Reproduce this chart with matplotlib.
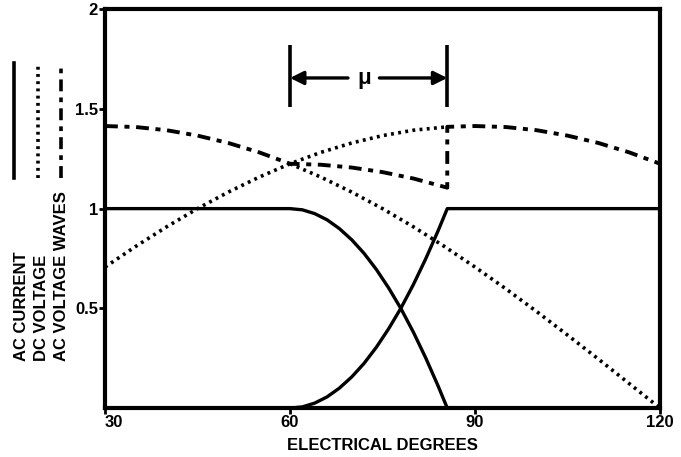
import matplotlib
matplotlib.use("Agg")
import matplotlib.pyplot as plt
from matplotlib.lines import Line2D

plt.rcParams['font.family'] = ['Liberation Sans', 'DejaVu Sans']
plt.rcParams['font.weight'] = 'bold'

# valores (grados electricos / por unidad)
x_sub = [30, 35, 40, 45, 50, 55, 60, 65, 70, 75, 80, 85.5]
v_sub = [0.707, 0.811, 0.909, 1.0, 1.083, 1.158, 1.225, 1.282, 1.329, 1.366, 1.393, 1.41]

x_baj = [30, 35, 40, 45, 50, 55, 60, 65, 70, 75, 80, 85, 90, 95, 100, 105, 110, 115, 120]
v_baj = [1.414, 1.409, 1.393, 1.366, 1.329, 1.282, 1.225, 1.158, 1.083, 1.0, 0.909,
         0.811, 0.707, 0.598, 0.484, 0.366, 0.246, 0.123, 0.0]

x_ac = [30, 35, 40, 45, 50, 55, 60, 65, 70, 75, 80, 85.5, 85.5, 90, 95, 100, 105, 110, 115, 120]
v_ac = [1.414, 1.409, 1.393, 1.366, 1.329, 1.282, 1.225, 1.220, 1.206, 1.183, 1.151, 1.105,
        1.41, 1.414, 1.409, 1.393, 1.366, 1.329, 1.282, 1.225]

x_i = [30, 60, 62, 64, 66, 68, 70, 72, 74, 76, 78, 80, 82, 84, 85.5, 120]
i_entra = [0, 0, 0.006, 0.025, 0.056, 0.100, 0.156, 0.224, 0.305, 0.398, 0.502,
           0.619, 0.748, 0.888, 1.0, 1.0]
x_sale = x_i[:-1]
i_sale = [1 - v for v in i_entra[:-1]]

fig = plt.figure(figsize=(6.81, 4.57), dpi=100)
ax = fig.add_axes([0.1542, 0.107, 0.815, 0.873])

punteado = (0, (0.8, 1.2))
dashdot = (0, (3.3, 1.7, 1.3, 1.7))
ax.plot(x_i, i_entra, color='black', lw=2.4)
ax.plot(x_sale, i_sale, color='black', lw=2.4)
ax.plot(x_sub, v_sub, color='black', lw=2.6, linestyle=punteado)
ax.plot(x_baj[6:], v_baj[6:], color='black', lw=2.6, linestyle=punteado)
ax.plot(x_ac, v_ac, color='black', lw=2.8, linestyle=dashdot)

# anotacion del angulo de conmutacion mu
ax.plot([60, 60], [1.51, 1.82], color='black', lw=2.6, solid_capstyle='butt')
ax.plot([85.5, 85.5], [1.51, 1.82], color='black', lw=2.6, solid_capstyle='butt')
ax.annotate('', xy=(60, 1.655), xytext=(69.4, 1.655),
            arrowprops=dict(arrowstyle='-|>', color='black', lw=2.4, mutation_scale=20, shrinkA=0, shrinkB=0))
ax.annotate('', xy=(85.5, 1.655), xytext=(74.5, 1.655),
            arrowprops=dict(arrowstyle='-|>', color='black', lw=2.4, mutation_scale=20, shrinkA=0, shrinkB=0))
ax.text(72, 1.65, 'μ', ha='center', va='center', fontsize=16, fontweight='bold')

ax.set_xlim(30, 120)
ax.set_ylim(0, 2)
ax.set_xticks([30, 60, 90, 120])
ax.set_xticklabels(['30', '60', '90', '120'], fontsize=12, fontweight='bold')
ax.get_xticklabels()[0].set_ha('left')
ax.set_yticks([0.5, 1, 1.5, 2])
ax.set_yticklabels(['0.5', '1', '1.5', '2'], fontsize=12, fontweight='bold')
ax.tick_params(direction='out', length=4, width=2, pad=1)
for s in ax.spines.values():
    s.set_linewidth(3)
ax.set_xlabel('ELECTRICAL DEGREES', fontsize=12, fontweight='bold', labelpad=6)

# leyenda vertical a la izquierda
estilos = ['-', punteado, dashdot]
for xl, st in zip([14, 38, 61], estilos):
    fig.add_artist(Line2D([xl / 681, xl / 681], [1 - 178 / 457, 1 - 63 / 457],
                          color='black', lw=2.6, linestyle=st))
nombres = ['AC CURRENT', 'DC VOLTAGE', 'AC VOLTAGE WAVES']
for xl, nom in zip([22, 42, 62], nombres):
    fig.text(xl / 681, 1 - 361 / 457, nom, rotation=90, ha='center', va='bottom',
             fontsize=12, fontweight='bold')

fig.savefig('out.png', dpi=100)
